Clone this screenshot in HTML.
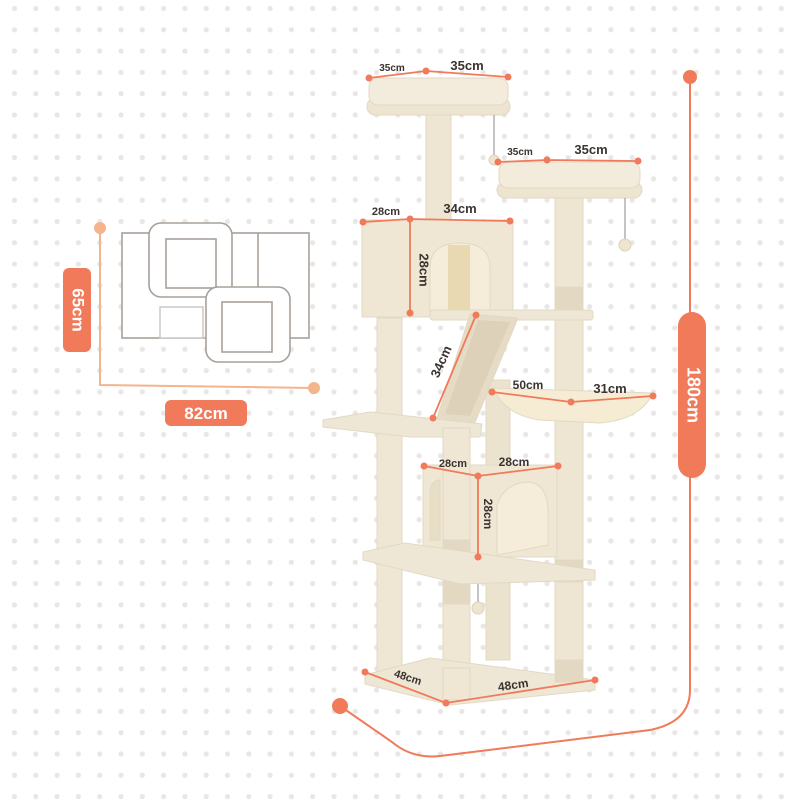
<!DOCTYPE html>
<html><head><meta charset="utf-8"><style>
body{margin:0;background:#fff}
svg{display:block}
text{font-family:"Liberation Sans",sans-serif;font-weight:bold}
</style></head><body>
<svg width="800" height="800" viewBox="0 0 800 800" xmlns="http://www.w3.org/2000/svg">
<defs>
<pattern id="dots" x="12" y="6" width="21.3" height="21.3" patternUnits="userSpaceOnUse">
<circle cx="2.5" cy="2.5" r="2.6" fill="#e9e6e6"/></pattern>
</defs>
<rect width="800" height="800" fill="#fff"/>
<rect width="800" height="800" fill="url(#dots)"/>

<!-- footprint diagram -->
<g fill="#fff" stroke="#a8a09a" stroke-width="1.6">
<rect x="122" y="233" width="187" height="105"/>
<line x1="258" y1="233" x2="258" y2="287"/>
<rect x="160" y="307" width="43" height="31" stroke="#ccc"/>
<rect x="149" y="223" width="83" height="74" rx="12"/>
<rect x="166" y="239" width="50" height="49"/>
<rect x="206" y="287" width="84" height="75" rx="12"/>
<rect x="222" y="302" width="50" height="50"/>
</g>

<!-- left dims -->
<g stroke="#f4b48c" stroke-width="2" fill="none">
<path d="M100 228 L100 385 L314 388"/></g>
<circle cx="100" cy="228" r="6" fill="#f4b48c"/>
<circle cx="314" cy="388" r="6" fill="#f4b48c"/>
<rect x="63" y="268" width="28" height="84" rx="6" fill="#f07a5a"/>
<text x="77" y="310" fill="#fff" font-size="17" text-anchor="middle" dominant-baseline="middle" transform="rotate(90 77 310)">65cm</text>
<rect x="165" y="400" width="82" height="26" rx="6" fill="#f07a5a"/>
<text x="206" y="419" fill="#fff" font-size="17" text-anchor="middle">82cm</text>

<!-- big orange -->
<path d="M690 77 L690 690 Q690 722 650 730 L440 756 Q412 759 392 742 L340 706" stroke="#f07a5a" stroke-width="2" fill="none"/>
<circle cx="690" cy="77" r="7" fill="#f07a5a"/>
<circle cx="340" cy="706" r="8" fill="#f07a5a"/>
<rect x="678" y="312" width="28" height="166" rx="14" fill="#f07a5a"/>
<text x="692" y="395" fill="#fff" font-size="18" text-anchor="middle" dominant-baseline="middle" transform="rotate(90 692 395)">180cm</text>

<!-- cat tree -->
<g stroke="#e2d9c4" stroke-width="1">
<!-- posts back -->
<rect x="486" y="380" width="24" height="280" fill="#ece3cf"/>
<rect x="555" y="195" width="28" height="490" fill="#eee6d2"/>
<rect x="555" y="287" width="28" height="23" fill="#e3d9c3"/>
<rect x="555" y="560" width="28" height="22" fill="#e3d9c3"/>
<rect x="555" y="660" width="28" height="22" fill="#e3d9c3"/>
<rect x="377" y="318" width="25" height="354" fill="#efe7d4"/>
<rect x="426" y="112" width="25" height="110" fill="#eee6d2"/>
<!-- top perch -->
<rect x="367" y="98" width="143" height="17" rx="8" fill="#eee5d0"/>
<rect x="369" y="78" width="139" height="27" rx="9" fill="#f3ecdc"/>
<!-- second perch -->
<rect x="497" y="182" width="145" height="16" rx="8" fill="#eee5d0"/>
<rect x="499" y="162" width="141" height="26" rx="9" fill="#f3ecdc"/>
<!-- condo -->
<rect x="362" y="220" width="151" height="97" fill="#efe6d3"/>
<path d="M430 312 L430 268 Q430 243 460 243 Q490 243 490 268 L490 312 Z" fill="#f5edda"/>
<rect x="448" y="245" width="22" height="67" fill="#e9d9b3" stroke="none"/>
<!-- shelf -->
<rect x="430" y="310" width="163" height="10" rx="3" fill="#efe7d5"/>
<!-- ramp -->
<polygon points="470,314 518,318 474,425 436,421" fill="#e6dcc6"/>
<polygon points="478,320 510,322 470,416 445,414" fill="#ddd2b9" stroke="none"/>
<!-- left platform -->
<polygon points="323,420 370,412 482,424 480,437 410,437 323,427" fill="#efe7d5"/>
<!-- hammock -->
<path d="M493 388 L653 393 Q640 420 600 423 L540 420 Q505 415 493 388 Z" fill="#f6ecd4"/>
<!-- lower condo -->
<rect x="423" y="465" width="134" height="92" fill="#efe6d3"/>
<path d="M430 540 L430 490 Q432 480 440 480 L440 540 Z" fill="#e8ddc5"/>
<path d="M497 555 L497 505 Q505 482 530 482 Q547 485 548 510 L548 545 Z" fill="#f5edda"/>
<!-- front post -->
<rect x="443" y="428" width="27" height="272" fill="#efe7d4"/>
<rect x="443" y="540" width="27" height="45" fill="#e3d9c3"/>
<!-- mid platform -->
<polygon points="363,552 405,543 595,570 595,580 460,584 363,560" fill="#efe7d5"/>
<rect x="443" y="584" width="27" height="20" fill="#e3d9c3"/>
<!-- base -->
<polygon points="365,675 430,658 595,680 595,690 450,705 365,684" fill="#efe7d5"/>
<rect x="443" y="668" width="27" height="32" fill="#efe7d4"/>
<rect x="555" y="660" width="28" height="22" fill="#e3d9c3"/>
</g>
<!-- balls -->
<g stroke="#888" stroke-width="1"><line x1="494" y1="115" x2="494" y2="155"/><line x1="625" y1="198" x2="625" y2="240"/><line x1="478" y1="584" x2="478" y2="603"/></g>
<circle cx="494" cy="160" r="5" fill="#eee4cf" stroke="#ddd1b8"/>
<circle cx="625" cy="245" r="6" fill="#eee4cf" stroke="#ddd1b8"/>
<circle cx="478" cy="608" r="6" fill="#eee4cf" stroke="#ddd1b8"/>

<!-- dimension lines -->
<g stroke="#f07a5a" stroke-width="1.8" fill="none">
<polyline points="369,78 426,71 508,77"/>
<polyline points="498,162 547,160 638,161"/>
<polyline points="363,222 410,219 510,221"/>
<line x1="410" y1="219" x2="410" y2="313"/>
<line x1="476" y1="315" x2="433" y2="418"/>
<polyline points="492,392 571,402 653,396"/>
<polyline points="424,466 478,476 558,466"/>
<line x1="478" y1="476" x2="478" y2="557"/>
<polyline points="365,672 446,703 595,680"/>
</g>
<g fill="#f07a5a">
<circle cx="369" cy="78" r="3.5"/><circle cx="426" cy="71" r="3.5"/><circle cx="508" cy="77" r="3.5"/>
<circle cx="498" cy="162" r="3.5"/><circle cx="547" cy="160" r="3.5"/><circle cx="638" cy="161" r="3.5"/>
<circle cx="363" cy="222" r="3.5"/><circle cx="410" cy="219" r="3.5"/><circle cx="510" cy="221" r="3.5"/><circle cx="410" cy="313" r="3.5"/>
<circle cx="476" cy="315" r="3.5"/><circle cx="433" cy="418" r="3.5"/>
<circle cx="492" cy="392" r="3.5"/><circle cx="571" cy="402" r="3.5"/><circle cx="653" cy="396" r="3.5"/>
<circle cx="424" cy="466" r="3.5"/><circle cx="478" cy="476" r="3.5"/><circle cx="558" cy="466" r="3.5"/><circle cx="478" cy="557" r="3.5"/>
<circle cx="365" cy="672" r="3.5"/><circle cx="446" cy="703" r="3.5"/><circle cx="595" cy="680" r="3.5"/>
</g>
<g fill="#3a3330" text-anchor="middle">
<text x="392" y="71" font-size="10">35cm</text>
<text x="467" y="70" font-size="13">35cm</text>
<text x="520" y="155" font-size="10">35cm</text>
<text x="591" y="154" font-size="13">35cm</text>
<text x="386" y="215" font-size="11">28cm</text>
<text x="460" y="213" font-size="13">34cm</text>
<text x="423" y="270" font-size="13" transform="rotate(90 423 270)" dominant-baseline="middle">28cm</text>
<text x="442" y="362" font-size="13" transform="rotate(-66 442 362)" dominant-baseline="middle">34cm</text>
<text x="528" y="389" font-size="12">50cm</text>
<text x="610" y="393" font-size="13">31cm</text>
<text x="453" y="467" font-size="11">28cm</text>
<text x="514" y="466" font-size="12">28cm</text>
<text x="487" y="514" font-size="12" transform="rotate(90 487 514)" dominant-baseline="middle">28cm</text>
<text x="408" y="681" font-size="11" transform="rotate(18 408 677)">48cm</text>
<text x="513" y="689" font-size="12" transform="rotate(-8 513 684)">48cm</text>
</g>
</svg>
</body></html>
